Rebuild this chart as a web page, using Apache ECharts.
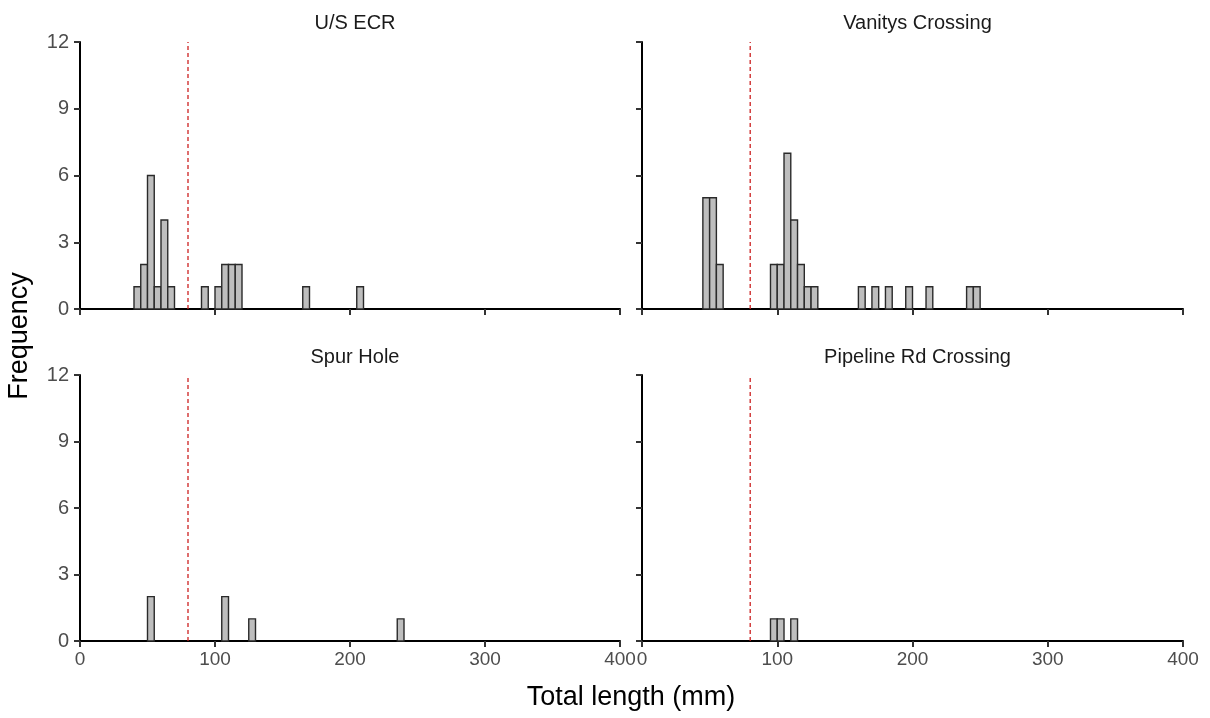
<!DOCTYPE html>
<html>
<head>
<meta charset="utf-8">
<script src="https://cdn.jsdelivr.net/npm/echarts@6/dist/echarts.min.js"></script>
<style>
html,body{margin:0;padding:0;background:#fff;}
#chart{width:1210px;height:718px;}
</style>
</head>
<body>
<div id="chart"></div>
<script>
// ---- Data (bin start in mm, bin width 5 mm) ----
const binWidth = 5;
const cutoffLength = 80;
const panelTitles = ['U/S ECR', 'Vanitys Crossing', 'Spur Hole', 'Pipeline Rd Crossing'];

const usEcrBins   = [40, 45, 50, 55, 60, 65, 90, 100, 105, 110, 115, 165, 205];
const usEcrCounts = [1, 2, 6, 1, 4, 1, 1, 1, 2, 2, 2, 1, 1];

const vanitysBins   = [45, 50, 55, 95, 100, 105, 110, 115, 120, 125, 160, 170, 180, 195, 210, 240, 245];
const vanitysCounts = [5, 5, 2, 2, 2, 7, 4, 2, 1, 1, 1, 1, 1, 1, 1, 1, 1];

const spurBins   = [50, 105, 125, 235];
const spurCounts = [2, 2, 1, 1];

const pipelineBins   = [95, 100, 110];
const pipelineCounts = [1, 1, 1];

const xTicks = [0, 100, 200, 300, 400];
const yTicks = [0, 3, 6, 9, 12];

// ---- Build chart ----
const panels = [
  {bins: usEcrBins, counts: usEcrCounts},
  {bins: vanitysBins, counts: vanitysCounts},
  {bins: spurBins, counts: spurCounts},
  {bins: pipelineBins, counts: pipelineCounts}
];

const gridPos = [
  {left: 80, top: 42, width: 540, height: 267},
  {left: 642, top: 42, width: 541, height: 267},
  {left: 80, top: 375, width: 540, height: 266},
  {left: 642, top: 375, width: 541, height: 266}
];

const FONT = '"Liberation Sans", Arial, sans-serif';
const axisLineStyle = {color: '#000', width: 2};

const grids = [], xAxes = [], yAxes = [], series = [], titles = [];
panels.forEach((p, i) => {
  grids.push(Object.assign({containLabel: false}, gridPos[i]));
  const showX = i >= 2, showY = (i % 2 === 0);
  xAxes.push({
    type: 'value', gridIndex: i, min: xTicks[0], max: xTicks[xTicks.length - 1], interval: 100,
    axisLine: {show: true, lineStyle: axisLineStyle, onZero: false},
    axisTick: {show: true, length: 6, lineStyle: {color: '#333', width: 2}},
    axisLabel: {show: showX, color: '#4d4d4d', fontSize: 19, fontFamily: FONT, margin: 9, hideOverlap: false},
    splitLine: {show: false}
  });
  yAxes.push({
    type: 'value', gridIndex: i, min: yTicks[0], max: yTicks[yTicks.length - 1], interval: 3,
    axisLine: {show: true, lineStyle: axisLineStyle, onZero: false},
    axisTick: {show: true, length: 6, lineStyle: {color: '#333', width: 2}},
    axisLabel: {show: showY, color: '#4d4d4d', fontSize: 20, fontFamily: FONT, margin: 11},
    splitLine: {show: false}
  });
  series.push({
    type: 'custom', xAxisIndex: i, yAxisIndex: i,
    encode: {x: 0, y: 1},
    data: p.bins.map((b, k) => [b, p.counts[k]]),
    renderItem: function (params, api) {
      const x0 = api.value(0), c = api.value(1);
      const p0 = api.coord([x0, c]);
      const p1 = api.coord([x0 + binWidth, 0]);
      return {
        type: 'rect',
        shape: {x: p0[0], y: p0[1], width: p1[0] - p0[0], height: p1[1] - p0[1]},
        style: {fill: '#bebebe', stroke: '#2a2a2a', lineWidth: 1.4}
      };
    },
    z: 2
  });
  series.push({
    type: 'line', xAxisIndex: i, yAxisIndex: i,
    data: [[cutoffLength, yTicks[0]], [cutoffLength, yTicks[yTicks.length - 1]]],
    showSymbol: false, symbol: 'none', silent: true,
    lineStyle: {color: '#cc1f1f', width: 1.3, type: [4, 3]},
    z: 3
  });
  titles.push({
    text: panelTitles[i],
    left: gridPos[i].left + gridPos[i].width / 2,
    top: i < 2 ? 8 : 342,
    textAlign: 'center',
    textStyle: {fontSize: 20, fontWeight: 'normal', color: '#1a1a1a', fontFamily: FONT}
  });
});

const chart = echarts.init(document.getElementById('chart'), null, {renderer: 'canvas'});
chart.setOption({
  animation: false,
  backgroundColor: '#ffffff',
  title: titles,
  grid: grids,
  xAxis: xAxes,
  yAxis: yAxes,
  series: series,
  graphic: [
    {
      type: 'text', x: 631, y: 698,
      style: {text: 'Total length (mm)', fontSize: 27, fill: '#000', fontFamily: FONT, align: 'center', verticalAlign: 'middle'}
    },
    {
      type: 'text', x: 20, y: 336, rotation: Math.PI / 2,
      style: {text: 'Frequency', fontSize: 27, fill: '#000', fontFamily: FONT, align: 'center', verticalAlign: 'middle'}
    }
  ]
});
</script>
</body>
</html>
